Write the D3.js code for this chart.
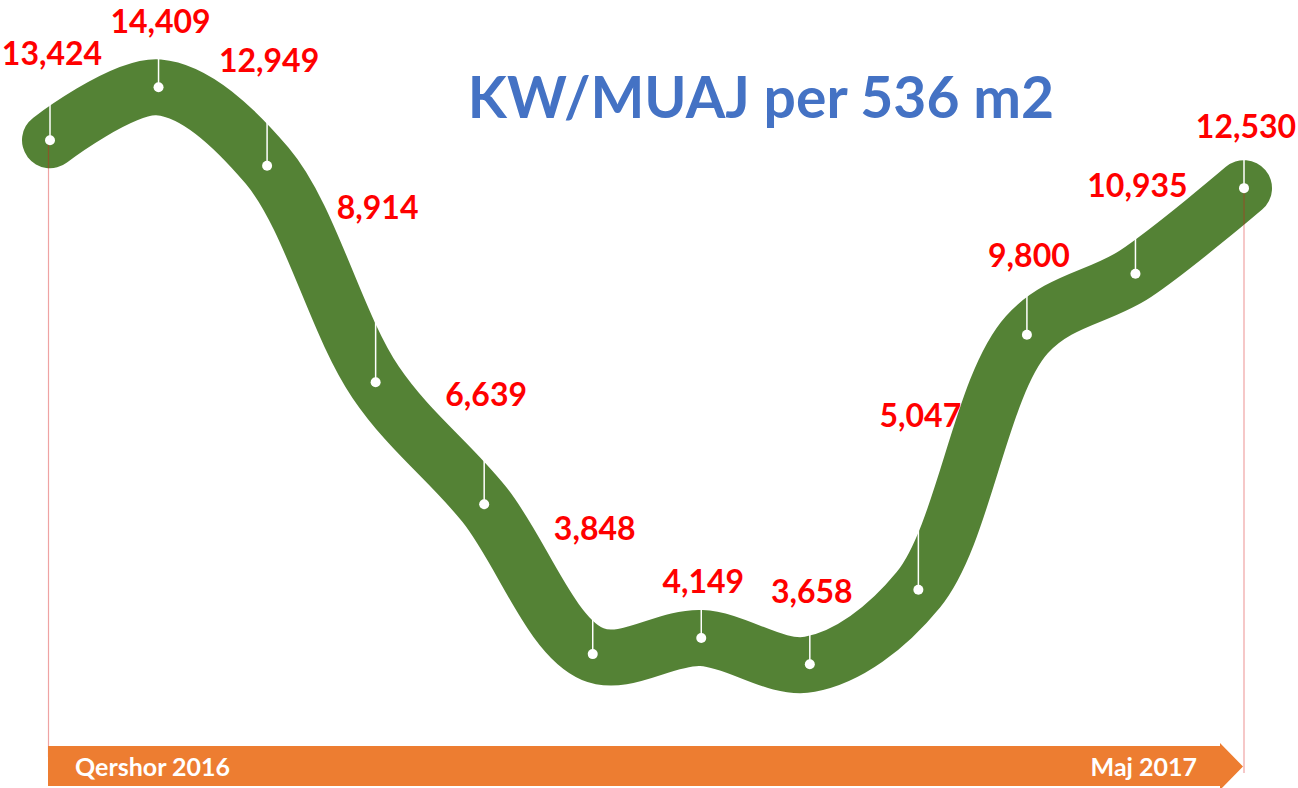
<!DOCTYPE html>
<html>
<head>
<meta charset="utf-8">
<script src="https://cdn.jsdelivr.net/npm/d3@7"></script>
<style>
  html, body { margin: 0; padding: 0; background: #fff; }
  svg { display: block; }
  text { font-family: Lato, "Open Sans", sans-serif; font-weight: 700; }
</style>
</head>
<body>
<script>
// months from Qershor 2016 to Maj 2017
const months = ['Qershor 2016', 'Korrik 2016', 'Gusht 2016', 'Shtator 2016', 'Tetor 2016', 'Nëntor 2016',
  'Dhjetor 2016', 'Janar 2017', 'Shkurt 2017', 'Mars 2017', 'Prill 2017', 'Maj 2017'];
const kwh = [13424, 14409, 12949, 8914, 6639, 3848, 4149, 3658, 5047, 9800, 10935, 12530];
const endLabels = ['Qershor 2016', 'Maj 2017'];
const title = 'KW/MUAJ per 536 m2';

// how far above each point its value label sits (px)
const labelLift = [75, 54, 94, 163, 98, 114, 45, 61, 163, 68, 77, 50];

const width = 1298;
const height = 788;

const x = d3.scalePoint()
  .domain(months)
  .range([50, 1244]);

const y = d3.scaleLinear()
  .domain([0, 15000])
  .range([860.6, 55.6]);

const fmt = d3.format(',');

const svg = d3.select('body')
  .append('svg')
  .attr('width', width)
  .attr('height', height);

const line = d3.line()
  .x((d, i) => x(months[i]))
  .y(d => y(d))
  .curve(d3.curveCatmullRom.alpha(0.5));

svg.append('path')
  .datum(kwh)
  .attr('d', line)
  .attr('fill', 'none')
  .attr('stroke', '#548235')
  .attr('stroke-width', 56)
  .attr('stroke-linecap', 'round')
  .attr('stroke-linejoin', 'round');

// thin red markers at start and end
const first = months[0];
const last = months[months.length - 1];
svg.append('line')
  .attr('x1', x(first) - 1.5).attr('x2', x(first) - 1.5)
  .attr('y1', y(kwh[0])).attr('y2', 757)
  .attr('stroke', '#d81818')
  .attr('stroke-opacity', 0.4)
  .attr('stroke-width', 1.2);
svg.append('line')
  .attr('x1', x(last)).attr('x2', x(last))
  .attr('y1', y(kwh[kwh.length - 1])).attr('y2', 773)
  .attr('stroke', '#d81818')
  .attr('stroke-opacity', 0.4)
  .attr('stroke-width', 1.2);

// leader lines
svg.selectAll('.leader')
  .data(kwh)
  .enter().append('line')
  .attr('class', 'leader')
  .attr('x1', (d, i) => x(months[i]))
  .attr('x2', (d, i) => x(months[i]))
  .attr('y1', d => y(d))
  .attr('y2', (d, i) => y(d) - labelLift[i] + 6)
  .attr('stroke', '#fff')
  .attr('stroke-width', 1.5);

svg.selectAll('.dot')
  .data(kwh)
  .enter().append('circle')
  .attr('class', 'dot')
  .attr('cx', (d, i) => x(months[i]))
  .attr('cy', d => y(d))
  .attr('r', 5)
  .attr('fill', '#fff');

svg.selectAll('.value')
  .data(kwh)
  .enter().append('text')
  .attr('class', 'value')
  .attr('x', (d, i) => x(months[i]) + 2)
  .attr('y', (d, i) => y(d) - labelLift[i])
  .attr('text-anchor', 'middle')
  .attr('font-size', 32)
  .attr('fill', '#ff0000')
  .text(d => fmt(d));

svg.append('text')
  .attr('x', 761)
  .attr('y', 118)
  .attr('text-anchor', 'middle')
  .attr('font-size', 57)
  .attr('fill', '#4472c4')
  .text(title);

// orange timeline arrow
const ax0 = x(first) - 2;
const ax1 = x(last) - 1;
svg.append('path')
  .attr('d', `M${ax0},746 L${ax1 - 23},746 L${ax1 - 23},743 L${ax1},766.5 L${ax1 - 23},790 L${ax1 - 23},786 L${ax0},786 Z`)
  .attr('fill', '#ed7d31');

svg.append('text')
  .attr('x', 75)
  .attr('y', 776)
  .attr('font-size', 25)
  .attr('fill', '#fff')
  .text(endLabels[0]);

svg.append('text')
  .attr('x', 1197)
  .attr('y', 776)
  .attr('text-anchor', 'end')
  .attr('font-size', 25)
  .attr('fill', '#fff')
  .text(endLabels[1]);
</script>
</body>
</html>
